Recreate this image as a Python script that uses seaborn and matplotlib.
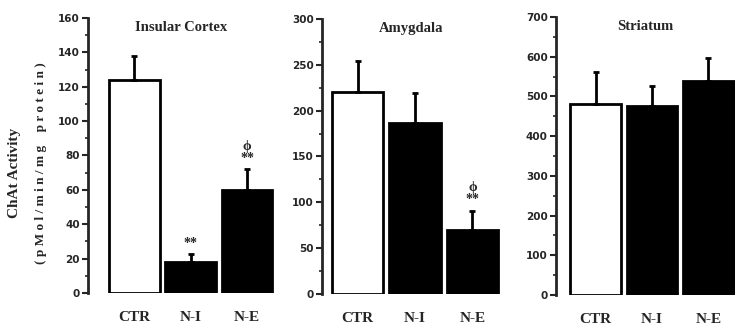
import numpy as np
import matplotlib
matplotlib.use("Agg")
import matplotlib.pyplot as plt
import seaborn as sns
from matplotlib.ticker import MultipleLocator

groups = ["CTR", "N-I", "N-E"]
regions = ["Insular Cortex", "Amygdala", "Striatum"]

insular_mean = [124, 18, 60]
insular_err = [14, 4.5, 12]
amygdala_mean = [220, 187, 70]
amygdala_err = [34, 32, 21]
striatum_mean = [480, 477, 540]
striatum_err = [82, 49, 58]

# significance marks above bars (text, per group)
insular_marks = ["", "**", "ϕ\n**"]
amygdala_marks = ["", "", "ϕ\n**"]
striatum_marks = ["", "", ""]

ylims = [160, 300, 700]
major_steps = [20, 50, 100]
minor_steps = [10, 25, 50]

sns.set_style("ticks")
plt.rcParams["font.family"] = ["Liberation Serif", "DejaVu Serif"]

fig = plt.figure(figsize=(7.41, 3.27), dpi=100)
positions = [
    [0.1188, 0.104, 0.251, 0.841],
    [0.4345, 0.101, 0.2402, 0.841],
    [0.7503, 0.098, 0.2416, 0.850],
]
xlims = [(-0.82, 2.48), (-0.62, 2.48), (-0.70, 2.47)]

data = [
    (insular_mean, insular_err, insular_marks),
    (amygdala_mean, amygdala_err, amygdala_marks),
    (striatum_mean, striatum_err, striatum_marks),
]

for i, (means, errs, marks) in enumerate(data):
    ax = fig.add_axes(positions[i])
    sns.barplot(x=groups, y=means, hue=groups, palette=["white", "black", "black"],
                edgecolor="black", linewidth=2, width=0.9, legend=False, ax=ax)
    ax.errorbar(range(3), means, yerr=[np.zeros(3), errs], fmt="none",
                ecolor="black", elinewidth=2, capsize=2, capthick=2)
    for j, m in enumerate(marks):
        if m:
            ax.text(j, means[j] + errs[j] + ylims[i] * 0.015, m, ha="center", va="bottom",
                    fontsize=10, fontweight="bold", linespacing=0.95)
    ax.set_ylim(0, ylims[i])
    ax.set_xlim(*xlims[i])
    ax.yaxis.set_major_locator(MultipleLocator(major_steps[i]))
    ax.yaxis.set_minor_locator(MultipleLocator(minor_steps[i]))
    ax.tick_params(axis="y", which="major", length=4, width=1.5, labelsize=7.5, pad=2)
    ax.tick_params(axis="y", which="minor", length=2.5, width=1.2)
    ax.tick_params(axis="x", length=0, pad=13, labelsize=11)
    for lab in ax.get_yticklabels():
        lab.set_fontfamily("DejaVu Sans")
        lab.set_fontweight("bold")
    for lab in ax.get_xticklabels():
        lab.set_fontweight("bold")
    sns.despine(ax=ax, bottom=True)
    ax.spines["left"].set_linewidth(2)
    ax.set_xlabel("")
    ax.set_ylabel("")
    ax.text(0.5, 0.99, regions[i], transform=ax.transAxes, ha="center", va="top",
            fontsize=10.5, fontweight="bold")

fig.text(0.02, 0.47, "ChAt Activity", rotation=90, ha="center", va="center",
         fontsize=11, fontweight="bold")
fig.text(0.056, 0.50, "( p M o l / m i n / m g    p r o t e i n )", rotation=90,
         ha="center", va="center", fontsize=9.5, fontweight="bold")

fig.savefig("out.png", dpi=100)
